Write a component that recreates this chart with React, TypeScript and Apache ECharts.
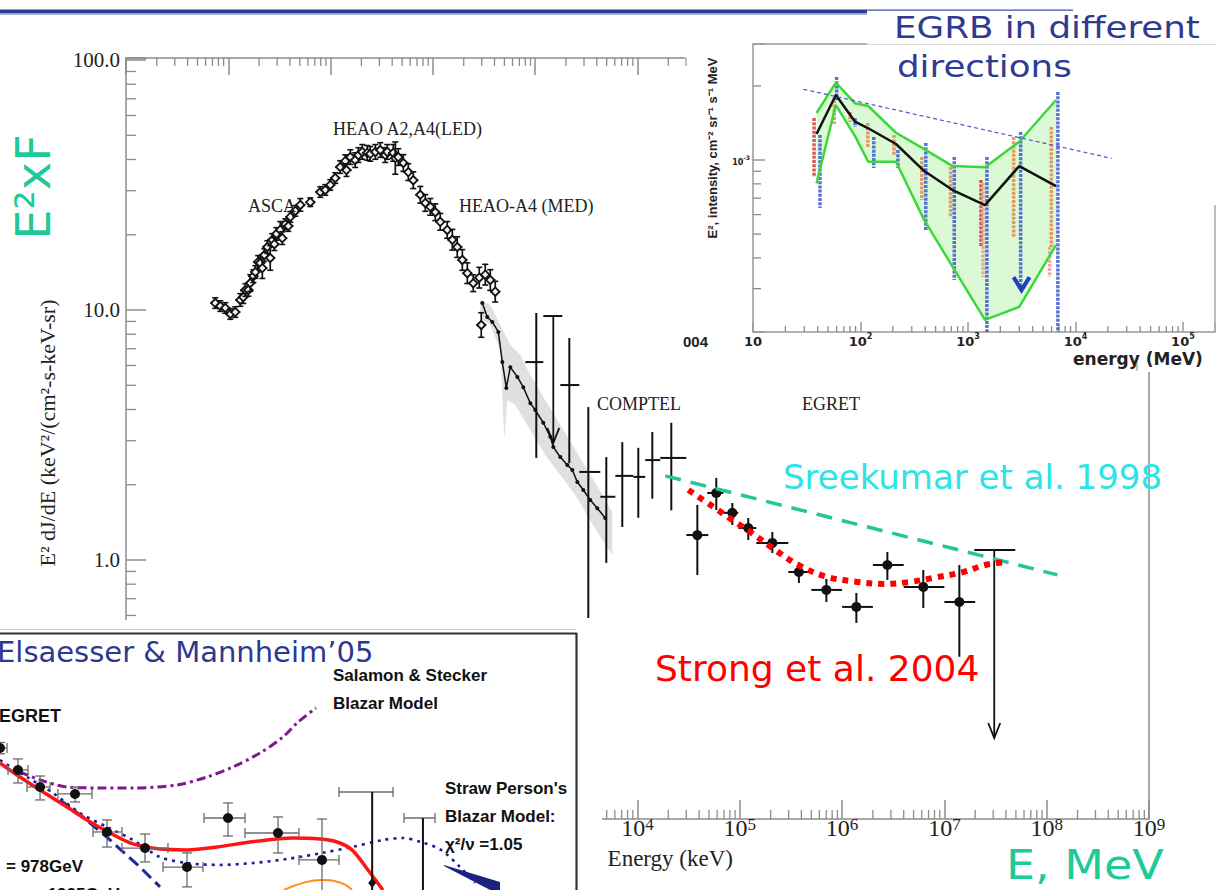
import React, { useEffect, useRef } from "react";
import * as echarts from "echarts";

// ---------------- Main spectrum: energy (keV) vs E^2 dJ/dE ----------------
const cxbEnergy = [0.746, 0.835, 0.935, 1.047, 1.17, 1.31, 1.4, 1.47, 1.57, 1.64, 1.76, 1.84, 1.96, 2.05, 2.15, 2.25, 2.41, 2.57, 2.69, 2.82, 2.95, 3.22, 3.37, 3.61, 3.86, 4.04, 4.52, 5.06, 6.33, 7.93, 8.87, 9.93, 11.1, 12.4, 13.9, 14.3, 15.6, 17.4, 18.7, 20.4, 22.8, 24.4, 27.4, 30.6, 34.2, 35.8, 41.0, 42.9, 45.9, 51.4, 57.5, 64.3, 75.3, 84.3, 94.3, 105.5, 118, 138, 155, 173, 194, 217, 248, 284, 297, 325, 364, 407];
const cxbFlux = [10.66, 10.37, 10.19, 9.64, 9.81, 10.97, 11.26, 12.02, 12.03, 12.82, 13.66, 14.19, 15.57, 15.41, 14.71, 16.59, 17.86, 16.15, 19.06, 18.34, 20.15, 20.91, 19.39, 22.05, 21.67, 23.58, 24.91, 26.33, 27.0, 29.65, 30.22, 31.64, 33.73, 37.32, 39.4, 36.28, 40.91, 39.78, 41.67, 42.9, 42.52, 42.14, 42.9, 43.65, 41.67, 42.9, 42.52, 40.53, 40.91, 38.74, 35.62, 33.06, 28.9, 26.81, 25.86, 24.62, 22.53, 20.91, 19.1, 17.86, 15.86, 14.04, 12.8, 13.47, 8.71, 13.85, 13.18, 11.84];
const cxbErr = [0.05, 0.05, 0.05, 0.05, 0.05, 0.06, 0.06, 0.06, 0.06, 0.08, 0.06, 0.06, 0.06, 0.07, 0.1, 0.06, 0.06, 0.12, 0.06, 0.06, 0.06, 0.08, 0.06, 0.05, 0.05, 0.05, 0.05, 0.06, 0.04, 0.05, 0.05, 0.05, 0.05, 0.06, 0.06, 0.06, 0.07, 0.07, 0.07, 0.07, 0.07, 0.07, 0.07, 0.07, 0.07, 0.07, 0.08, 0.16, 0.08, 0.08, 0.08, 0.08, 0.08, 0.08, 0.08, 0.08, 0.08, 0.08, 0.1, 0.1, 0.1, 0.1, 0.08, 0.1, 0.12, 0.1, 0.1, 0.1];

const hardEnergy = [304, 340, 381, 436, 477, 522, 571, 669, 765, 896, 1002, 1200, 1405, 1503, 1759, 2061, 2306, 2581, 2953, 3456, 4048, 4842];
const hardFlux = [10.67, 9.37, 8.96, 8.17, 6.19, 4.88, 5.91, 5.4, 4.91, 4.24, 3.98, 3.54, 3.11, 2.83, 2.58, 2.4, 2.29, 2.05, 1.905, 1.738, 1.611, 1.473];

const bandUpperEnergy = [291, 364, 456, 571, 715, 896, 1256, 1759, 2466, 3456, 4842, 5675];
const bandUpperFlux = [10.97, 10.47, 8.71, 7.24, 6.61, 5.49, 4.36, 3.47, 2.76, 2.19, 1.74, 1.55];
const bandLowerEnergy = [291, 364, 456, 499, 534, 639, 896, 1256, 1759, 2466, 3456, 4842, 5675];
const bandLowerFlux = [9.29, 8.71, 6.92, 3.02, 4.36, 4.17, 3.31, 2.63, 2.19, 1.82, 1.44, 1.15, 1.05];

const comptelEnergy = [1025, 2155, 3305, 4955, 7100, 10180, 13960, 21400];
const comptelFlux = [6.19, 5.01, 2.25, 1.79, 2.17, 2.15, 2.51, 2.56];
const comptelFluxLo = [2.56, 2.44, 0.586, 0.973, 1.355, 1.475, 1.76, 1.58];
const comptelFluxHi = [9.73, 7.73, 4.09, 2.58, 2.96, 2.81, 3.25, 3.54];
const comptelEnergyLo = [800, 1760, 2700, 4330, 6070, 9100, 11900, 16700];
const comptelEnergyHi = [1200, 2700, 4330, 6070, 9100, 11900, 16700, 30000];
// upper limit: [energy, flux at bar, energy low, energy high, arrow tip]
const comptelLimit = [1503, 9.46, 1200, 1840, 2.94];

const egretEnergy = [38450, 58900, 84500, 121000, 208000, 378000, 702000, 1.378e6, 2.77e6, 6.22e6, 1.4e7];
const egretFlux = [1.258, 1.854, 1.544, 1.342, 1.17, 0.895, 0.759, 0.649, 0.955, 0.78, 0.679];
const egretFluxLo = [0.871, 1.585, 1.381, 1.202, 1.066, 0.809, 0.679, 0.56, 0.832, 0.643, 0.41];
const egretFluxHi = [1.66, 2.13, 1.69, 1.472, 1.294, 0.981, 0.84, 0.738, 1.076, 0.912, 0.955];
const egretEnergyLo = [30000, 48100, 69000, 96700, 145000, 298000, 5e5, 1e6, 2e6, 4e6, 1e7];
const egretEnergyHi = [49200, 69000, 96700, 145000, 298000, 5e5, 1e6, 2e6, 4e6, 1e7, 2e7];
const egretLimit = [3.07e7, 1.097, 1.96e7, 4.93e7, 0.194];

const sreekumarEnergy = [18700, 1.27e8];
const sreekumarFlux = [2.17, 0.872];

const strongEnergy = [31400, 55100, 84500, 126800, 208000, 373000, 716000, 1.41e6, 2.53e6, 4.64e6, 7.79e6, 1.53e7, 2.51e7, 3.94e7];
const strongFlux = [1.905, 1.631, 1.446, 1.294, 1.117, 0.955, 0.855, 0.817, 0.802, 0.817, 0.848, 0.895, 0.955, 0.981];

// ---------------- EGRB in different directions (MeV, E^2 intensity) ----------------
const dirEnergy = [39, 59, 89, 118, 214, 392, 720, 1440, 3000, 6590];
const dirMean = [1.276e-3, 1.838e-3, 1.431e-3, 1.346e-3, 1.162e-3, 9.02e-4, 7.55e-4, 6.56e-4, 9.45e-4, 7.84e-4];
const dirUpper = [1.553e-3, 2.062e-3, 1.7e-3, 1.658e-3, 1.291e-3, 1.108e-3, 9.45e-4, 9.34e-4, 1.187e-3, 1.753e-3];
const dirLower = [8.04e-4, 1.673e-3, 1.25e-3, 9.84e-4, 9.84e-4, 5.7e-4, 3.68e-4, 2.24e-4, 2.53e-4, 4.51e-4];
const dirRefEnergy = [29.4, 21700];
const dirRefIntensity = [1.94e-3, 1.016e-3];
// [energy, low, high, colour index]
const dirBars = [
  [37, 8.53e-4, 1.481e-3, 0], [42, 6.38e-4, 1.264e-3, 2], [57, 1.4e-3, 1.75e-3, 1], [60, 1.753e-3, 2.175e-3, 2],
  [80, 1.427e-3, 1.567e-3, 1], [89, 1.362e-3, 1.481e-3, 2], [117, 1.119e-3, 1.414e-3, 1], [133, 9.28e-4, 1.24e-3, 2],
  [205, 1.048e-3, 1.264e-3, 1], [223, 9.28e-4, 1.098e-3, 2], [372, 6.88e-4, 1.028e-3, 1], [405, 5.19e-4, 1.172e-3, 2],
  [689, 5.86e-4, 9.37e-4, 1], [746, 3.25e-4, 1.028e-3, 2], [1320, 4.43e-4, 8.29e-4, 0], [1380, 3.35e-4, 8.06e-4, 3],
  [1500, 2.0e-4, 1.028e-3, 2], [2660, 4.86e-4, 1.24e-3, 1], [3090, 3.05e-4, 1.3e-3, 2], [5960, 4.43e-4, 1.362e-3, 1],
  [5750, 3.35e-4, 4.43e-4, 3], [6860, 2.0e-4, 1.89e-3, 2],
];
const dirArrow = [3150, 3.13e-4];

// ---------------- Elsaesser & Mannheim blazar models (GeV) ----------------
const emPtsEnergy = [0.0316, 0.0425, 0.0611, 0.1086, 0.1838, 0.3434, 0.685, 1.345, 3.06, 6.31];
const emPtsFlux = [1.675, 1.407, 1.229, 1.163, 0.86, 0.757, 0.651, 0.961, 0.853, 0.689];
const emPtsEnergyLo = [0.0316, 0.0361, 0.0493, 0.082, 0.146, 0.2352, 0.4617, 0.906, 1.778, 4.32];
const emPtsEnergyHi = [0.0355, 0.0501, 0.072, 0.1436, 0.2352, 0.501, 0.891, 1.778, 4.32, 8.35];
const emPtsFluxLo = [1.6, 1.269, 1.109, 1.091, 0.763, 0.678, 0.556, 0.833, 0.728, 0.5];
const emPtsFluxHi = [1.75, 1.536, 1.341, 1.229, 0.946, 0.846, 0.728, 1.083, 0.969, 0.953];
const emLimits = [[14.4, 1.181, 8.35, 20.3, 0.574], [33.2, 0.961, 24.3, 40.5, 0]];

const salamonEnergy = [0.0439, 0.0611, 0.0952, 0.1637, 0.2818, 0.581, 0.952, 1.459, 2.275, 3.322, 4.182, 5.716];
const salamonFlux = [1.385, 1.3, 1.229, 1.22, 1.22, 1.249, 1.331, 1.441, 1.61, 1.828, 2.043, 2.302];
const fitEnergy = [0.0316, 0.0439, 0.0611, 0.0952, 0.1322, 0.1931, 0.2818, 0.4394, 0.685, 1.122, 1.931, 3.916, 6.105, 8.074, 10.33, 13.44, 17.2];
const fitFlux = [1.487, 1.331, 1.2, 1.049, 0.946, 0.853, 0.782, 0.751, 0.746, 0.763, 0.794, 0.82, 0.813, 0.794, 0.746, 0.636, 0.5425];
const strawEnergy = [0.0316, 0.0493, 0.0756, 0.1179, 0.1837, 0.2818, 0.4394, 0.685, 1.179, 2.028, 3.548, 6.31, 10.33, 17.2, 23.5, 32.1, 44.7, 61.1, 78.1];
const strawFlux = [1.523, 1.331, 1.172, 1.0, 0.895, 0.807, 0.705, 0.672, 0.662, 0.672, 0.694, 0.728, 0.763, 0.807, 0.82, 0.794, 0.746, 0.651, 0.574];
const cutoffEnergy = [0.0848, 0.1238, 0.1931, 0.3162, 0.4394];
const cutoffFlux = [1.109, 0.969, 0.807, 0.651, 0.556];
const bumpEnergy = [3.378, 4.616, 6.31, 8.62, 10.33];
const bumpFlux = [0.5425, 0.574, 0.587, 0.574, 0.5425];
const wedgeEnergy = [46.9, 117.9, 117.9, 46.9];
const wedgeFlux = [0.662, 0.578, 0.521, 0.657];

// ---------------- styling ----------------
const SERIF = "'Liberation Serif', 'Times New Roman', serif";
const SANS = "'Liberation Sans', Arial, sans-serif";
const HAND = "'DejaVu Sans', sans-serif";
const AXIS_GRAY = "#8c8c8c";
const INK = "#111";
const TEAL = "#1ec99a";

const isDecade = (v: number) => {
  const l = Math.log10(v);
  return Math.abs(l - Math.round(l)) < 1e-6;
};
const minorValues = (lo: number, hi: number) => {
  const out: number[] = [];
  for (let k = Math.floor(Math.log10(lo)); k <= Math.ceil(Math.log10(hi)); k++) {
    for (let m = 2; m <= 9; m++) {
      const v = m * Math.pow(10, k);
      if (v > lo * 1.0001 && v < hi * 0.9999) out.push(v);
    }
  }
  return out;
};

const MAIN_X = [0.1, 1e9];
const MAIN_Y = [0.092, 101.9];
const DIR_X = [10, 1.987e5];
const DIR_Y = [2.0e-4, 2.962e-3];
const EM_X = [0.03162, 411.5];
const EM_Y = [0.5425, 4.175];
// the lower axis is only exposed to the right of the blazar panel
const FIRST_LABELLED_DECADE = 4;

const line = (x1: number, y1: number, x2: number, y2: number, stroke: string, lineWidth: number, extra: any = {}) => ({
  type: "line",
  shape: { x1, y1, x2, y2 },
  style: { stroke, lineWidth, ...extra },
});

const text = (t: string, x: number, y: number, font: string, fill: string, z: number, extra: any = {}, styleExtra: any = {}) => ({
  type: "text",
  x,
  y,
  z,
  ...extra,
  style: {
    text: t,
    font,
    fill,
    textAlign: "left",
    textVerticalAlign: "middle",
    align: "left",
    verticalAlign: "middle",
    ...styleExtra,
  },
});

function crossRenderer(dot: boolean) {
  return (params: any, api: any) => {
    const e = api.value(0), f = api.value(1);
    const c = api.coord([e, f]);
    const l = api.coord([api.value(2), f]);
    const r = api.coord([api.value(3), f]);
    const b = api.coord([e, api.value(4)]);
    const t = api.coord([e, api.value(5)]);
    const children: any[] = [
      line(l[0], c[1], r[0], c[1], INK, 2),
      line(c[0], t[1], c[0], b[1], INK, 2),
    ];
    if (dot) children.push({ type: "circle", shape: { cx: c[0], cy: c[1], r: 5 }, style: { fill: INK } });
    return { type: "group", children };
  };
}

function limitRenderer(params: any, api: any) {
  const e = api.value(0), f = api.value(1);
  const c = api.coord([e, f]);
  const l = api.coord([api.value(2), f]);
  const r = api.coord([api.value(3), f]);
  const tip = api.coord([e, api.value(4)]);
  return {
    type: "group",
    children: [
      line(l[0], c[1], r[0], c[1], INK, 2),
      line(c[0], c[1], c[0], tip[1], INK, 1.8),
      { type: "polyline", shape: { points: [[c[0] - 6, tip[1] - 15], [c[0], tip[1]], [c[0] + 6, tip[1] - 15]] }, style: { stroke: INK, lineWidth: 1.8, fill: "none" } },
    ],
  };
}

function cxbRenderer(params: any, api: any) {
  const e = api.value(0), f = api.value(1), err = api.value(2);
  const c = api.coord([e, f]);
  const t = api.coord([e, f * (1 + err)]);
  const b = api.coord([e, f / (1 + err)]);
  const s = 4.2;
  return {
    type: "group",
    children: [
      line(c[0], t[1], c[0], b[1], INK, 1.7),
      line(c[0] - 3, t[1], c[0] + 3, t[1], INK, 1.6),
      line(c[0] - 3, b[1], c[0] + 3, b[1], INK, 1.6),
      line(c[0] - 5, c[1], c[0] + 5, c[1], INK, 1.6),
      { type: "polygon", shape: { points: [[c[0], c[1] - s], [c[0] + s, c[1]], [c[0], c[1] + s], [c[0] - s, c[1]]] }, style: { fill: "#f2f2f2", stroke: INK, lineWidth: 1.8 } },
    ],
  };
}

function bandRenderer(upperE: number[], upperF: number[], lowerE: number[], lowerF: number[], fill: string) {
  return (params: any, api: any) => {
    if (params.dataIndex !== 0) return { type: "group", children: [] };
    const pts: number[][] = [];
    upperE.forEach((e, i) => pts.push(api.coord([e, upperF[i]])));
    for (let i = lowerE.length - 1; i >= 0; i--) pts.push(api.coord([lowerE[i], lowerF[i]]));
    return { type: "polygon", shape: { points: pts }, style: { fill } };
  };
}

function minorXRenderer(lenTop: number, lenBottom: number) {
  return (params: any, api: any) => {
    const cs = params.coordSys;
    const x = api.coord([api.value(0), api.value(1)])[0];
    const children: any[] = [];
    if (lenTop) children.push(line(x, cs.y, x, cs.y + lenTop, AXIS_GRAY, 1.3));
    if (lenBottom) children.push(line(x, cs.y + cs.height, x, cs.y + cs.height - lenBottom, AXIS_GRAY, 1.3));
    return { type: "group", children };
  };
}

function minorYRenderer(len: number) {
  return (params: any, api: any) => {
    const cs = params.coordSys;
    const y = api.coord([api.value(0), api.value(1)])[1];
    return line(cs.x, y, cs.x + len, y, AXIS_GRAY, 1.3);
  };
}

const barColors = ["rgba(210,60,50,0.85)", "rgba(222,140,80,0.85)", "rgba(60,90,205,0.85)", "rgba(232,150,140,0.8)"];

function dirBarRenderer(params: any, api: any) {
  const e = api.value(0);
  const lo = api.coord([e, api.value(1)]);
  const hi = api.coord([e, api.value(2)]);
  return line(lo[0], hi[1], lo[0], lo[1], barColors[api.value(3)], 3.5, { lineDash: [3, 1.2] });
}

function dirArrowRenderer(params: any, api: any) {
  const c = api.coord([api.value(0), api.value(1)]);
  return {
    type: "polyline",
    shape: { points: [[c[0] - 8, c[1] - 7], [c[0], c[1] + 6], [c[0] + 8, c[1] - 7]] },
    style: { stroke: "#2340c0", lineWidth: 4, fill: "none" },
  };
}

function emPointRenderer(params: any, api: any) {
  const e = api.value(0), f = api.value(1);
  const c = api.coord([e, f]);
  const l = api.coord([api.value(2), f]);
  const r = api.coord([api.value(3), f]);
  const b = api.coord([e, api.value(4)]);
  const t = api.coord([e, api.value(5)]);
  const G = "#6b6b6b";
  return {
    type: "group",
    children: [
      line(l[0], c[1], r[0], c[1], G, 1.3),
      line(l[0], c[1] - 5, l[0], c[1] + 5, G, 1.3),
      line(r[0], c[1] - 5, r[0], c[1] + 5, G, 1.3),
      line(c[0], t[1], c[0], b[1], G, 1.3),
      line(c[0] - 5, t[1], c[0] + 5, t[1], G, 1.3),
      line(c[0] - 5, b[1], c[0] + 5, b[1], G, 1.3),
      { type: "circle", shape: { cx: c[0], cy: c[1], r: 5 }, style: { fill: INK } },
    ],
  };
}

function emLimitRenderer(params: any, api: any) {
  const cs = params.coordSys;
  const e = api.value(0), f = api.value(1);
  const c = api.coord([e, f]);
  const l = api.coord([api.value(2), f]);
  const r = api.coord([api.value(3), f]);
  const G = "#6b6b6b";
  const children: any[] = [
    line(l[0], c[1], r[0], c[1], G, 1.5),
    line(l[0], c[1] - 5, l[0], c[1] + 5, G, 1.3),
    line(r[0], c[1] - 5, r[0], c[1] + 5, G, 1.3),
    line(c[0], c[1], c[0], cs.y + cs.height, INK, 2),
  ];
  const m = api.value(4);
  if (m > 0) {
    const p = api.coord([e, m]);
    children.push({ type: "polygon", shape: { points: [[p[0], p[1] - 5], [p[0] + 4, p[1]], [p[0], p[1] + 5], [p[0] - 4, p[1]]] }, style: { fill: INK } });
  }
  return { type: "group", children };
}

const decadeRich = (v: number) => {
  if (!isDecade(v)) return "";
  return `{b|10}{s|${Math.round(Math.log10(v))}}`;
};

function buildOption(): any {
  const zIn = 22;
  const hidden = { show: false };
  return {
    animation: false,
    backgroundColor: "#ffffff",
    grid: [
      { left: 126, top: 58, width: 1023, height: 761, show: false, containLabel: false, outerBoundsMode: "none" },
      { left: 753, top: 44, width: 462, height: 288, show: false, containLabel: false, outerBoundsMode: "none", z: 20 },
      { left: 0, top: 633, width: 576, height: 257, show: false, containLabel: false, outerBoundsMode: "none", z: 20 },
    ],
    xAxis: [
      {
        gridIndex: 0, type: "log", logBase: 10, position: "top", min: MAIN_X[0], max: MAIN_X[1], splitNumber: 10,
        axisLine: { show: true, lineStyle: { color: AXIS_GRAY, width: 1.5 } },
        axisTick: { show: true, inside: true, length: 17, lineStyle: { color: AXIS_GRAY, width: 1.5 } },
        axisLabel: hidden, splitLine: hidden,
      },
      {
        gridIndex: 0, type: "log", logBase: 10, position: "bottom", min: MAIN_X[0], max: MAIN_X[1], splitNumber: 10,
        axisLine: { show: true, lineStyle: { color: AXIS_GRAY, width: 1.5 } },
        axisTick: { show: true, inside: true, length: 19, lineStyle: { color: AXIS_GRAY, width: 1.5 } },
        axisLabel: {
          show: true, margin: -7,
          formatter: (v: number) => (isDecade(v) && Math.round(Math.log10(v)) >= FIRST_LABELLED_DECADE ? decadeRich(v) : ""),
          rich: {
            b: { fontFamily: SERIF, fontSize: 24, color: "#222", verticalAlign: "bottom", lineHeight: 28 },
            s: { fontFamily: SERIF, fontSize: 17, color: "#222", verticalAlign: "top", padding: [4, 0, 0, 0] },
          },
        },
        splitLine: hidden,
      },
      {
        gridIndex: 1, type: "log", logBase: 10, position: "bottom", min: DIR_X[0], max: DIR_X[1], z: 20,
        axisLine: { show: true, lineStyle: { color: "#999", width: 1.5 } },
        axisTick: { show: true, inside: true, length: 10, lineStyle: { color: "#999", width: 1.5 } },
        axisLabel: {
          show: true, margin: 0,
          formatter: (v: number) => (!isDecade(v) ? "" : Math.round(Math.log10(v)) === 1 ? "{b|10}" : decadeRich(v)),
          rich: {
            b: { fontFamily: HAND, fontWeight: "bold", fontSize: 13, color: "#222", verticalAlign: "bottom", lineHeight: 16 },
            s: { fontFamily: HAND, fontWeight: "bold", fontSize: 8, color: "#222", verticalAlign: "top", lineHeight: 10 },
          },
        },
        splitLine: hidden,
      },
      {
        gridIndex: 1, type: "log", logBase: 10, position: "top", min: DIR_X[0], max: DIR_X[1], z: 20,
        axisLine: { show: true, lineStyle: { color: "#999", width: 1.5 } },
        axisTick: hidden, axisLabel: hidden, splitLine: hidden,
      },
      { gridIndex: 2, type: "log", logBase: 10, min: EM_X[0], max: EM_X[1], show: false, splitLine: hidden },
    ],
    yAxis: [
      {
        gridIndex: 0, type: "log", logBase: 10, position: "left", min: MAIN_Y[0], max: MAIN_Y[1],
        axisLine: { show: true, lineStyle: { color: AXIS_GRAY, width: 1.5 } },
        axisTick: { show: true, inside: true, length: 20, lineStyle: { color: AXIS_GRAY, width: 1.5 } },
        axisLabel: {
          show: true, margin: 6, fontFamily: SERIF, fontSize: 21, color: "#222",
          formatter: (v: number) => {
            if (!isDecade(v)) return "";
            const n = Math.round(Math.log10(v));
            return n >= 0 ? Math.pow(10, n).toFixed(1) : "";
          },
        },
        splitLine: hidden,
      },
      {
        gridIndex: 0, type: "log", logBase: 10, position: "right", min: MAIN_Y[0], max: MAIN_Y[1],
        axisLine: { show: true, lineStyle: { color: AXIS_GRAY, width: 1.5 } },
        axisTick: hidden, axisLabel: hidden, splitLine: hidden,
      },
      {
        gridIndex: 1, type: "log", logBase: 10, position: "left", min: DIR_Y[0], max: DIR_Y[1], z: 20,
        axisLine: { show: true, lineStyle: { color: "#999", width: 1.5 } },
        axisTick: { show: true, inside: true, length: 12, lineStyle: { color: "#999", width: 1.5 } },
        axisLabel: {
          show: true, margin: 3,
          formatter: (v: number) => (Math.abs(Math.log10(v) + 3) < 1e-6 ? "{b|10}{s|-3}" : ""),
          rich: {
            b: { fontFamily: HAND, fontWeight: "bold", fontSize: 8, color: "#222", verticalAlign: "bottom", lineHeight: 12 },
            s: { fontFamily: HAND, fontWeight: "bold", fontSize: 6, color: "#222", verticalAlign: "top", lineHeight: 6 },
          },
        },
        splitLine: hidden,
      },
      { gridIndex: 2, type: "log", logBase: 10, min: EM_Y[0], max: EM_Y[1], show: false, splitLine: hidden },
    ],
    series: [
      // ---- main panel ----
      {
        type: "custom", name: "band", xAxisIndex: 0, yAxisIndex: 0, z: 2,
        data: bandUpperEnergy.map((e, i) => [e, bandUpperFlux[i]]),
        renderItem: bandRenderer(bandUpperEnergy, bandUpperFlux, bandLowerEnergy, bandLowerFlux, "#e0e0e0"),
      },
      {
        type: "custom", name: "ASCA / HEAO", xAxisIndex: 0, yAxisIndex: 0, z: 3,
        data: cxbEnergy.map((e, i) => [e, cxbFlux[i], cxbErr[i]]),
        renderItem: cxbRenderer,
      },
      {
        type: "line", name: "HEAO-A4 (MED)", xAxisIndex: 0, yAxisIndex: 0, z: 3,
        data: hardEnergy.map((e, i) => [e, hardFlux[i]]),
        symbol: "circle", symbolSize: 4, itemStyle: { color: INK },
        lineStyle: { color: INK, width: 1.5 },
      },
      {
        type: "custom", name: "COMPTEL", xAxisIndex: 0, yAxisIndex: 0, z: 3,
        data: comptelEnergy.map((e, i) => [e, comptelFlux[i], comptelEnergyLo[i], comptelEnergyHi[i], comptelFluxLo[i], comptelFluxHi[i]]),
        renderItem: crossRenderer(false),
      },
      {
        type: "custom", name: "COMPTEL limit", xAxisIndex: 0, yAxisIndex: 0, z: 3,
        data: [[comptelLimit[0], comptelLimit[1], comptelLimit[2], comptelLimit[3], comptelLimit[4]]],
        renderItem: limitRenderer,
      },
      {
        type: "custom", name: "EGRET", xAxisIndex: 0, yAxisIndex: 0, z: 3,
        data: egretEnergy.map((e, i) => [e, egretFlux[i], egretEnergyLo[i], egretEnergyHi[i], egretFluxLo[i], egretFluxHi[i]]),
        renderItem: crossRenderer(true),
      },
      {
        type: "custom", name: "EGRET limit", xAxisIndex: 0, yAxisIndex: 0, z: 3,
        data: [[egretLimit[0], egretLimit[1], egretLimit[2], egretLimit[3], egretLimit[4]]],
        renderItem: limitRenderer,
      },
      {
        type: "line", name: "Sreekumar et al. 1998", xAxisIndex: 0, yAxisIndex: 0, z: 4,
        data: sreekumarEnergy.map((e, i) => [e, sreekumarFlux[i]]), symbol: "none",
        lineStyle: { color: "#25c49a", width: 3.5, type: [16, 10] },
      },
      {
        type: "line", name: "Strong et al. 2004", xAxisIndex: 0, yAxisIndex: 0, z: 4, smooth: 0.35,
        data: strongEnergy.map((e, i) => [e, strongFlux[i]]), symbol: "none",
        lineStyle: { color: "#ff0000", width: 6, type: [6, 6], cap: "butt" },
      },
      {
        type: "custom", name: "minor x", xAxisIndex: 0, yAxisIndex: 0, z: 1, silent: true,
        data: minorValues(MAIN_X[0], MAIN_X[1]).map((v) => [v, 1]),
        renderItem: minorXRenderer(8, 9),
      },
      {
        type: "custom", name: "minor y", xAxisIndex: 0, yAxisIndex: 0, z: 1, silent: true,
        data: minorValues(MAIN_Y[0], MAIN_Y[1]).map((v) => [1, v]),
        renderItem: minorYRenderer(10),
      },
      // ---- directional EGRB panel ----
      {
        type: "custom", name: "spread", xAxisIndex: 2, yAxisIndex: 2, z: zIn,
        data: dirEnergy.map((e, i) => [e, dirUpper[i]]),
        renderItem: bandRenderer(dirEnergy, dirUpper, dirEnergy, dirLower, "rgba(205,246,196,0.7)"),
      },
      {
        type: "custom", name: "directions", xAxisIndex: 2, yAxisIndex: 2, z: zIn + 1,
        data: dirBars, renderItem: dirBarRenderer,
      },
      {
        type: "line", name: "upper", xAxisIndex: 2, yAxisIndex: 2, z: zIn + 2, symbol: "none",
        data: dirEnergy.map((e, i) => [e, dirUpper[i]]), lineStyle: { color: "#3bd83b", width: 2.5 },
      },
      {
        type: "line", name: "lower", xAxisIndex: 2, yAxisIndex: 2, z: zIn + 2, symbol: "none",
        data: dirEnergy.map((e, i) => [e, dirLower[i]]), lineStyle: { color: "#3bd83b", width: 2.5 },
      },
      {
        type: "line", name: "mean", xAxisIndex: 2, yAxisIndex: 2, z: zIn + 3, symbol: "none",
        data: dirEnergy.map((e, i) => [e, dirMean[i]]), lineStyle: { color: "#111", width: 2.5 },
      },
      {
        type: "line", name: "isotropic", xAxisIndex: 2, yAxisIndex: 2, z: zIn + 3, symbol: "none",
        data: dirRefEnergy.map((e, i) => [e, dirRefIntensity[i]]), lineStyle: { color: "#5050d8", width: 1.2, type: [4, 3] },
      },
      {
        type: "custom", name: "limit arrow", xAxisIndex: 2, yAxisIndex: 2, z: zIn + 4,
        data: [dirArrow], renderItem: dirArrowRenderer,
      },
      {
        type: "custom", name: "inset minor x", xAxisIndex: 2, yAxisIndex: 2, z: zIn, silent: true,
        data: minorValues(DIR_X[0], DIR_X[1]).map((v) => [v, 1e-3]),
        renderItem: minorXRenderer(0, 6),
      },
      {
        type: "custom", name: "inset minor y", xAxisIndex: 2, yAxisIndex: 2, z: zIn, silent: true,
        data: minorValues(DIR_Y[0], DIR_Y[1]).map((v) => [100, v]),
        renderItem: minorYRenderer(8),
      },
      // ---- blazar model panel ----
      {
        type: "line", name: "Salamon & Stecker", xAxisIndex: 4, yAxisIndex: 3, z: zIn, symbol: "none", smooth: 0.3,
        data: salamonEnergy.map((e, i) => [e, salamonFlux[i]]),
        lineStyle: { color: "#7d1a8c", width: 3, type: [9, 4, 3, 4] },
      },
      {
        type: "line", name: "dotted", xAxisIndex: 4, yAxisIndex: 3, z: zIn, symbol: "none", smooth: 0.3,
        data: strawEnergy.map((e, i) => [e, strawFlux[i]]),
        lineStyle: { color: "#1c1c9a", width: 2.6, type: [3, 5] },
      },
      {
        type: "line", name: "dashed", xAxisIndex: 4, yAxisIndex: 3, z: zIn, symbol: "none",
        data: cutoffEnergy.map((e, i) => [e, cutoffFlux[i]]),
        lineStyle: { color: "#1c2a9a", width: 3, type: [12, 6] },
      },
      {
        type: "line", name: "bump", xAxisIndex: 4, yAxisIndex: 3, z: zIn, symbol: "none", smooth: 0.5,
        data: bumpEnergy.map((e, i) => [e, bumpFlux[i]]),
        lineStyle: { color: "#ff8c1a", width: 2 },
      },
      {
        type: "custom", name: "wedge", xAxisIndex: 4, yAxisIndex: 3, z: zIn,
        data: wedgeEnergy.map((e, i) => [e, wedgeFlux[i]]),
        renderItem: bandRenderer(wedgeEnergy.slice(0, 2), wedgeFlux.slice(0, 2), wedgeEnergy.slice(2).reverse(), wedgeFlux.slice(2).reverse(), "#1a237e"),
      },
      {
        type: "line", name: "fit", xAxisIndex: 4, yAxisIndex: 3, z: zIn + 1, symbol: "none", smooth: 0.3,
        data: fitEnergy.map((e, i) => [e, fitFlux[i]]),
        lineStyle: { color: "#ff1414", width: 3.5 },
      },
      {
        type: "custom", name: "EGRET points", xAxisIndex: 4, yAxisIndex: 3, z: zIn + 2,
        data: emPtsEnergy.map((e, i) => [e, emPtsFlux[i], emPtsEnergyLo[i], emPtsEnergyHi[i], emPtsFluxLo[i], emPtsFluxHi[i]]),
        renderItem: emPointRenderer,
      },
      {
        type: "custom", name: "EGRET limits", xAxisIndex: 4, yAxisIndex: 3, z: zIn + 2,
        data: emLimits, renderItem: emLimitRenderer,
      },
    ],
    graphic: {
      elements: [
        // slide header rule
        { type: "rect", z: 5, shape: { x: 0, y: 9.5, width: 867, height: 4 }, style: { fill: "#2f3f8f" } },
        line(0, 14.5, 867, 14.5, "#aab3da", 1),
        // main panel annotations
        text("HEAO A2,A4(LED)", 333, 129, `18px ${SERIF}`, "#222", 5),
        text("ASCA", 248, 206, `18px ${SERIF}`, "#222", 5),
        text("HEAO-A4 (MED)", 459, 206, `18px ${SERIF}`, "#222", 5),
        text("COMPTEL", 597, 404, `18px ${SERIF}`, "#222", 5),
        text("EGRET", 802, 404, `18px ${SERIF}`, "#222", 5),
        text("E² dJ/dE (keV²/(cm²-s-keV-sr)", 47, 433, `22px ${SERIF}`, "#222", 5, { rotation: Math.PI / 2 }, { textAlign: "center", align: "center" }),
        text("Photon Energy (keV)", 733, 858, `23px ${SERIF}`, "#222", 5, {}, { textAlign: "right", align: "right" }),
        text("E²xF", 33, 187, `48px ${HAND}`, TEAL, 5, { rotation: Math.PI / 2 }, { textAlign: "center", align: "center" }),
        text("Sreekumar et al. 1998", 783, 477, `34px ${HAND}`, "#2de3e3", 5),
        text("Strong et al. 2004", 655, 668, `36px ${HAND}`, "#ff0000", 5),
        text("E, MeV", 1006, 865, `40px ${HAND}`, TEAL, 5, { scaleX: 1.15 }),
        // inset backgrounds
        { type: "rect", z: 10, shape: { x: 684, y: 16, width: 532, height: 356 }, style: { fill: "#fff" } },
        { type: "rect", z: 10, shape: { x: 0, y: 620, width: 602, height: 270 }, style: { fill: "#fff" } },
        // directional inset decorations
        { type: "rect", z: 25, shape: { x: 867, y: 11, width: 349, height: 33.5 }, style: { fill: "#fff" } },
        { ...line(867, 10.2, 1073, 10.2, "#3f4f9f", 1.3), z: 26 },
        { ...line(1215, 205, 1215, 332, "#aaa", 1.5), z: 26 },
        { ...line(679, 58, 686, 58, "#999", 1.2), z: 26 },
        { ...line(686, 58, 686, 66, "#999", 1.2), z: 26 },
        { ...line(1137, 364, 1137, 371, "#999", 1.2), z: 26 },
        text("004", 683, 341, `bold 15px ${SANS}`, "#222", 26),
        text("EGRB in different", 894, 27, `31px ${HAND}`, "#2e3b91", 27, { scaleX: 1.15 }),
        text("directions", 897, 66, `31px ${HAND}`, "#2e3b91", 27, { scaleX: 1.15 }),
        text("E², intensity, cm⁻² sr⁻¹ s⁻¹ MeV", 712, 148, `bold 13px ${SANS}`, "#222", 26, { rotation: Math.PI / 2 }, { textAlign: "center", align: "center" }),
        text("energy (MeV)", 1073, 359, `bold 17px ${HAND}`, "#222", 26),
        // blazar inset decorations
        { ...line(0, 629.5, 576, 629.5, "#c8c8c8", 1), z: 26 },
        { ...line(0, 633.5, 577, 633.5, "#333", 2.2), z: 26 },
        { ...line(576.5, 633, 576.5, 890, "#333", 2.2), z: 26 },
        text("Elsaesser & Mannheim’05", -3, 652, `29px ${HAND}`, "#2b3990", 26),
        text("Salamon & Stecker", 333, 675, `bold 17px ${SANS}`, INK, 26),
        text("Blazar Model", 333, 703, `bold 17px ${SANS}`, INK, 26),
        text("EGRET", -1, 716, `bold 18px ${SANS}`, INK, 26),
        text("Straw Person's", 445, 788, `bold 17px ${SANS}`, INK, 26),
        text("Blazar Model:", 445, 816, `bold 17px ${SANS}`, INK, 26),
        text("χ²/ν =1.05", 445, 844, `bold 17px ${SANS}`, INK, 26),
        text("= 978GeV", 6, 866, `bold 17px ${SANS}`, INK, 26),
        text("= 1935GeV", 33, 894, `bold 17px ${SANS}`, INK, 26),
      ],
    },
  };
}

export default function App() {
  const ref = useRef<HTMLDivElement>(null);
  useEffect(() => {
    if (!ref.current) return;
    const chart = echarts.init(ref.current, undefined, { renderer: "svg" });
    chart.setOption(buildOption());
    return () => chart.dispose();
  }, []);
  return (
    <div style={{ position: "fixed", left: 0, top: 0, width: 1216, height: 890, background: "#fff" }}>
      <div ref={ref} style={{ width: 1216, height: 890 }} />
    </div>
  );
}
